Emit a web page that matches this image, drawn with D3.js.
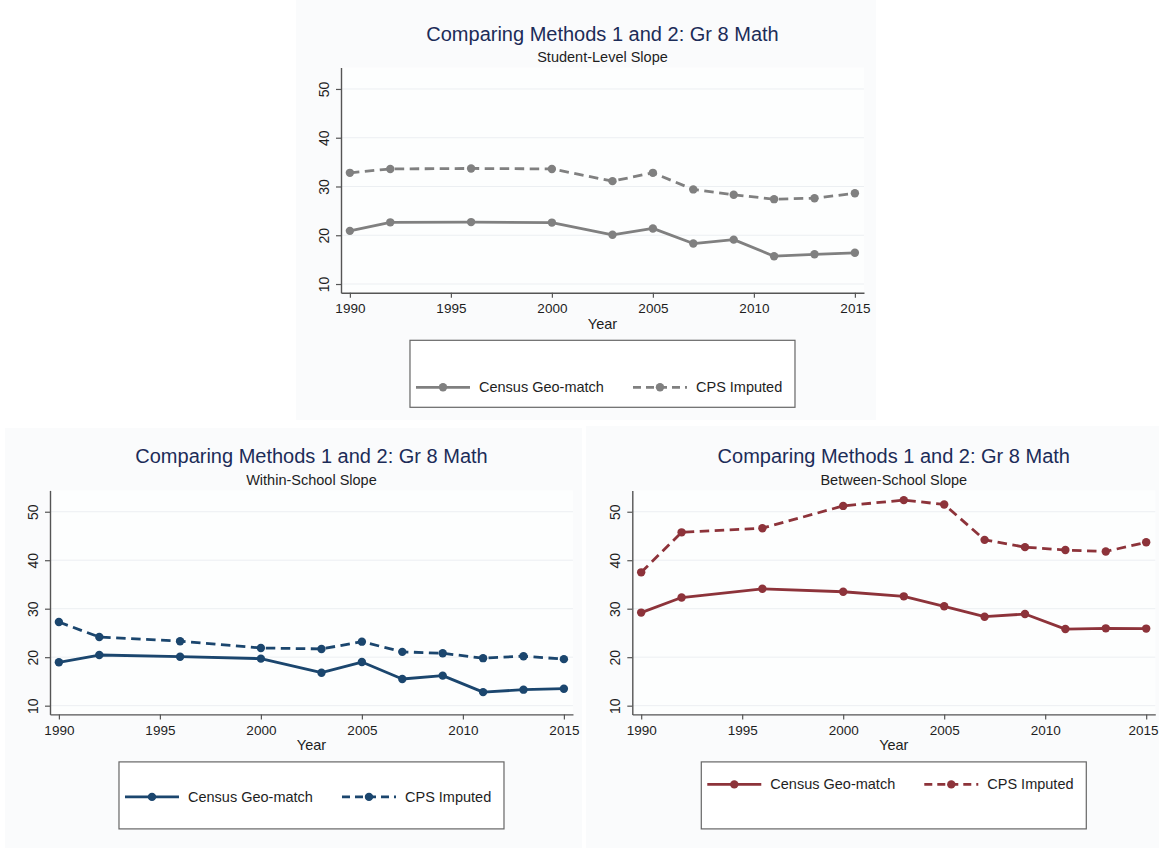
<!DOCTYPE html>
<html>
<head>
<meta charset="utf-8">
<script src="https://cdn.jsdelivr.net/npm/d3@7"></script>
<style>
    body { margin: 0; background: #fff; }
    svg { display: block; font-family: "Liberation Sans", Arial, Helvetica, sans-serif; }
</style>
</head>
<body>
<div id="chart"></div>
<script>
// data
const years = [1990, 1992, 1996, 2000, 2003, 2005, 2007, 2009, 2011, 2013, 2015];
const xTicks = [1990, 1995, 2000, 2005, 2010, 2015];
const yTicks = [10, 20, 30, 40, 50];
const seriesNames = ["Census Geo-match", "CPS Imputed"];
const chartTitle = "Comparing Methods 1 and 2: Gr 8 Math";
const subtitles = ["Student-Level Slope", "Within-School Slope", "Between-School Slope"];

const studentCensus = [20.9, 22.65, 22.7, 22.6, 20.1, 21.4, 18.3, 19.1, 15.7, 16.1, 16.4];
const studentCPS    = [32.8, 33.6, 33.7, 33.6, 31.1, 32.8, 29.4, 28.3, 27.4, 27.6, 28.6];
const withinCensus  = [18.95, 20.45, 20.1, 19.7, 16.8, 19.0, 15.5, 16.2, 12.8, 13.3, 13.5];
const withinCPS     = [27.25, 24.15, 23.3, 21.9, 21.7, 23.2, 21.1, 20.8, 19.8, 20.2, 19.6];
const betweenCensus = [29.2, 32.3, 34.1, 33.5, 32.55, 30.5, 28.35, 28.9, 25.8, 25.95, 25.9];
const betweenCPS    = [37.5, 45.75, 46.6, 51.2, 52.4, 51.5, 44.2, 42.7, 42.1, 41.8, 43.7];

const width = 1159, height = 848;

const svg = d3.select("#chart").append("svg")
    .attr("width", width)
    .attr("height", height);

// layout of the three panels
const panels = [
    {sub: subtitles[0], census: studentCensus, cps: studentCPS, color: "#808080",
     bg: {x: 296, y: 0, w: 580, h: 420}, left: 341, top: 67.5, bottom: 292.8, itemY: 47},
    {sub: subtitles[1], census: withinCensus, cps: withinCPS, color: "#1b466e",
     bg: {x: 5, y: 428, w: 577, h: 420}, left: 50, top: 490.4, bottom: 714.4, itemY: 35},
    {sub: subtitles[2], census: betweenCensus, cps: betweenCPS, color: "#8d333a",
     bg: {x: 586, y: 426, w: 573, h: 422}, left: 632.3, top: 490.4, bottom: 714.4, itemY: 22.5}
];

const pxPerYear = 20.2;
const xDomain = [1989.56, 2015.45];
const yDomain = [8.2, 54.4];

panels.forEach(p => drawPanel(p));

function drawPanel(p) {
    let g = svg.append("g");

    let right = p.left + (xDomain[1] - xDomain[0]) * pxPerYear;
    let cx = (p.left + right) / 2;

    let x = d3.scaleLinear().domain(xDomain).range([p.left, right]);
    let y = d3.scaleLinear().domain(yDomain).range([p.bottom, p.top]);

    // backgrounds
    g.append("rect")
        .attr("x", p.bg.x).attr("y", p.bg.y)
        .attr("width", p.bg.w).attr("height", p.bg.h)
        .attr("fill", "#fafbfc");

    g.append("rect")
        .attr("x", p.left).attr("y", p.top)
        .attr("width", right - p.left).attr("height", p.bottom - p.top)
        .attr("fill", "#fdfefe");

    // gridlines
    g.append("g")
        .selectAll("line")
        .data(yTicks)
        .join("line")
        .attr("x1", p.left).attr("x2", right)
        .attr("y1", d => y(d)).attr("y2", d => y(d))
        .attr("stroke", "#eceff2")
        .attr("stroke-width", 1);

    // axes
    let yAxis = d3.axisLeft(y).tickValues(yTicks).tickSize(5).tickSizeOuter(0);
    let xAxis = d3.axisBottom(x).tickValues(xTicks).tickSize(5).tickSizeOuter(0)
        .tickPadding(6).tickFormat(d3.format("d"));

    let ya = g.append("g")
        .attr("transform", "translate(" + p.left + ",0)")
        .call(yAxis);

    let xa = g.append("g")
        .attr("transform", "translate(0," + p.bottom + ")")
        .call(xAxis);

    [ya, xa].forEach(a => {
        a.select(".domain").attr("stroke", "#555").attr("stroke-width", 1.4);
        a.selectAll(".tick line").attr("stroke", "#555").attr("stroke-width", 1.2);
        a.selectAll("text").attr("fill", "#1e1e1e")
            .style("font-family", "'Liberation Sans', Arial, sans-serif");
    });

    ya.selectAll("text")
        .attr("x", 0).attr("y", -12).attr("dy", 0)
        .attr("text-anchor", "middle")
        .attr("transform", "rotate(-90)")
        .style("font-size", "14px");

    xa.selectAll("text").style("font-size", "13.5px");
    // keep the last year label inside the page
    xa.selectAll("text")
        .filter(d => x(d) + 15 > width)
        .attr("text-anchor", "end")
        .attr("x", d => width - 1 - x(d));

    // titles
    g.append("text")
        .attr("x", cx).attr("y", p.top - 27)
        .attr("text-anchor", "middle")
        .attr("fill", "#1c2c58")
        .style("font-size", "20px")
        .text(chartTitle);

    g.append("text")
        .attr("x", cx).attr("y", p.top - 5.5)
        .attr("text-anchor", "middle")
        .attr("fill", "#1e1e1e")
        .style("font-size", "14.5px")
        .text(p.sub);

    g.append("text")
        .attr("x", cx).attr("y", p.bottom + 36)
        .attr("text-anchor", "middle")
        .attr("fill", "#1e1e1e")
        .style("font-size", "14.5px")
        .text("Year");

    // lines and markers
    let line = d3.line()
        .x((d, i) => x(years[i]))
        .y(d => y(d));

    [p.census, p.cps].forEach((vals, k) => {
        g.append("path")
            .attr("d", line(vals))
            .attr("fill", "none")
            .attr("stroke", p.color)
            .attr("stroke-width", 2.8)
            .attr("stroke-linejoin", "round")
            .attr("stroke-dasharray", k === 1 ? "9.5,5.5" : null);

        g.append("g")
            .selectAll("circle")
            .data(vals)
            .join("circle")
            .attr("cx", (d, i) => x(years[i]))
            .attr("cy", d => y(d))
            .attr("r", 4.2)
            .attr("fill", p.color);
    });

    // legend
    let lx = cx - 192.5, ly = p.bottom + 47.5;
    g.append("rect")
        .attr("x", lx).attr("y", ly)
        .attr("width", 385).attr("height", 67)
        .attr("fill", "#fff")
        .attr("stroke", "#666")
        .attr("stroke-width", 1.2);

    let itemY = ly + p.itemY;
    let items = [{x0: 6, x1: 60, m: 33, t: 69}, {x0: 223, x1: 277, m: 250, t: 286}];
    items.forEach((it, k) => {
        g.append("line")
            .attr("x1", lx + it.x0).attr("x2", lx + it.x1)
            .attr("y1", itemY).attr("y2", itemY)
            .attr("stroke", p.color)
            .attr("stroke-width", 2.8)
            .attr("stroke-dasharray", k === 1 ? "8,5" : null);
        g.append("circle")
            .attr("cx", lx + it.m).attr("cy", itemY)
            .attr("r", 4.2)
            .attr("fill", p.color);
        g.append("text")
            .attr("x", lx + it.t).attr("y", itemY)
            .attr("dy", "0.35em")
            .attr("fill", "#1e1e1e")
            .style("font-size", "14.5px")
            .text(seriesNames[k]);
    });
}
</script>
</body>
</html>
